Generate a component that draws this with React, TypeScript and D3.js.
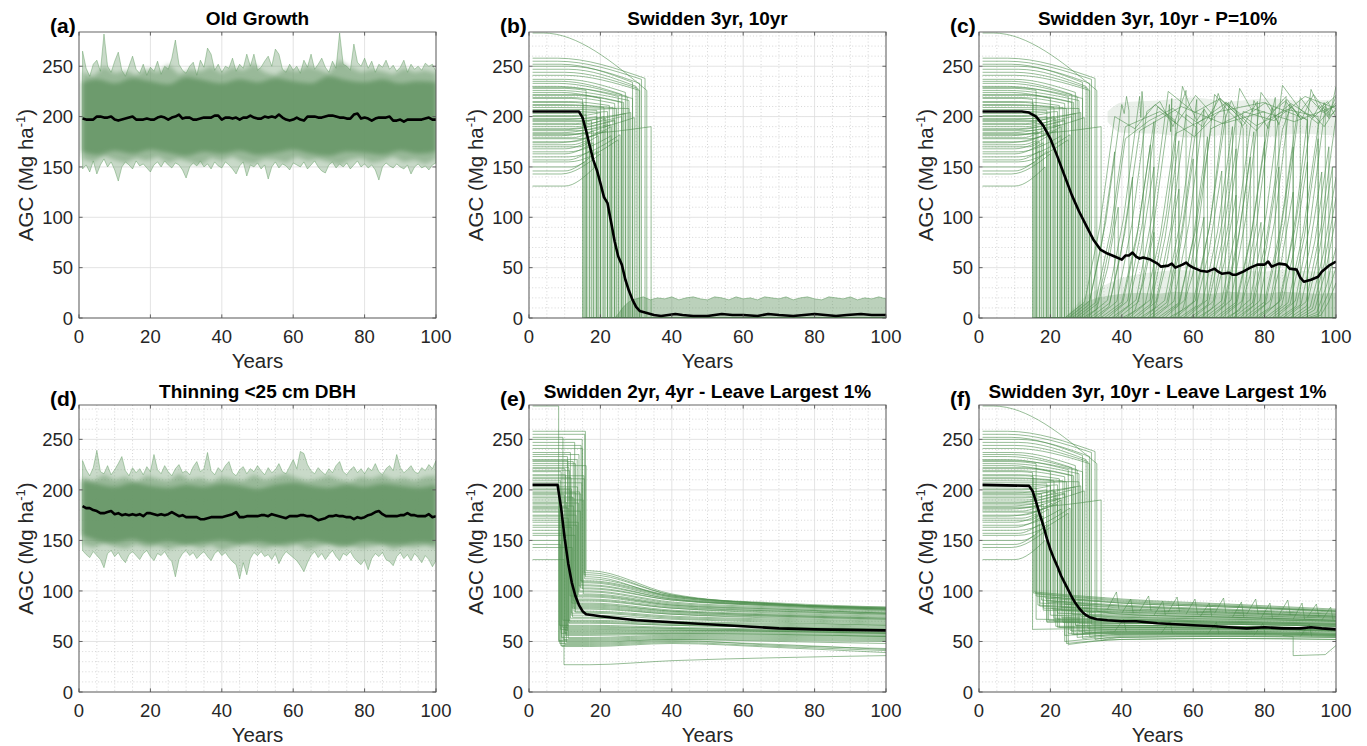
import React from "react";
import * as d3 from "d3";

// ---------- layout ----------
const W = 1367;
const H = 746;
const COLS: [number, number][] = [[79, 436], [529, 886], [979, 1336]];
const ROWS: [number, number][] = [[32, 318], [405, 692]];
const Y_MAX = 284;
const FONT = "'Liberation Sans', Arial, Helvetica, sans-serif";
const GREEN = "rgb(78,144,78)";
const BAND = "rgb(104,152,104)";

// ---------- ticks ----------
const xTicks = [0, 20, 40, 60, 80, 100];
const yTicks = [0, 50, 100, 150, 200, 250];
const xMinor = [5, 10, 15, 25, 30, 35, 45, 50, 55, 65, 70, 75, 85, 90, 95];
const yMinor = [10, 20, 30, 40, 60, 70, 80, 90, 110, 120, 130, 140, 160, 170, 180, 190, 210, 220, 230, 240, 260, 270, 280];

// ---------- (a) Old Growth : per-year envelope & mean ----------
const years = Array.from({ length: 100 }, (_, i) => i + 1);
const midYears = d3.range(1, 101, 3);
const coreYears = [1, 5, 10, 15, 20, 25, 30, 35, 40, 45, 50, 55, 60, 65, 70, 75, 80, 85, 90, 95, 100];

const aUpper = [265,248,240,252,256,245,282,250,244,255,264,246,240,250,260,247,243,252,241,249,245,255,242,250,247,258,276,252,246,243,250,254,241,256,249,268,262,246,252,244,250,248,258,245,252,248,262,250,262,246,249,255,260,250,267,262,247,244,252,246,250,243,256,249,262,247,252,258,249,244,255,248,283,252,250,246,272,254,250,258,248,255,244,252,249,256,247,251,245,249,256,244,252,247,250,246,253,250,252,245];
const aLower = [148,152,145,156,143,152,158,150,155,147,136,150,155,152,148,156,151,153,149,145,152,155,150,156,152,149,154,152,147,139,150,154,151,156,150,153,148,155,151,149,155,152,148,143,151,155,141,152,150,154,148,152,138,150,155,149,153,151,147,154,152,150,155,148,152,156,150,146,144,152,155,149,153,150,154,148,152,156,150,153,149,152,147,137,150,154,151,149,153,150,148,152,143,150,153,149,151,147,152,154];
const aMidUp = [244,240,250,243,246,241,248,244,252,242,247,245,250,243,249,246,252,244,241,248,245,250,247,243,256,249,244,247,245,242,248,244,246,243];
const aMidLo = [158,155,161,157,154,159,156,160,154,158,155,152,159,156,160,155,153,158,157,154,160,156,158,155,152,157,159,154,156,160,155,157,153,158];
const aCoreUp = [234,237,233,238,235,232,239,236,233,237,234,238,235,233,240,236,234,237,233,235,234];
const aCoreLo = [165,162,166,163,167,164,161,165,163,166,162,164,167,163,161,165,164,162,166,163,165];
const aMean = [198,197,197,197,200,200,199,199,200,197,196,197,198,199,200,197,197,197,198,197,197,199,200,199,197,199,200,202,198,199,199,197,197,198,199,199,199,201,201,197,199,199,198,199,197,199,199,201,199,198,198,200,199,200,199,202,199,197,196,197,199,197,196,200,200,200,199,199,200,201,201,200,199,199,198,198,202,203,198,199,198,196,198,199,199,199,200,196,196,197,195,197,197,197,197,197,198,199,197,197];

// ---------- (d) Thinning ----------
const dUpper = [229,220,214,222,239,218,216,224,215,220,226,233,219,214,222,217,221,215,223,218,235,220,216,224,218,214,221,225,217,219,215,223,228,218,221,237,219,215,222,218,224,228,217,214,220,223,216,221,218,224,219,215,222,217,220,226,218,216,223,230,221,238,236,225,219,216,222,218,215,221,217,224,228,218,215,220,223,217,221,216,222,219,226,218,215,221,224,219,235,222,217,220,224,218,216,222,219,225,221,229];
const dLower = [140,136,133,139,135,131,123,137,140,134,138,132,128,136,139,135,131,137,140,134,130,137,135,139,133,129,114,131,137,140,135,138,132,136,139,134,130,137,140,135,138,133,129,126,112,128,116,132,138,135,139,134,136,131,137,127,134,139,136,133,130,125,119,128,135,139,133,137,131,136,140,134,130,137,135,139,133,129,126,131,121,132,137,134,138,131,129,125,134,138,132,136,130,137,133,128,135,131,124,130];
const dMidUp = [212,209,215,210,213,208,214,211,209,216,210,212,208,213,211,209,215,210,213,216,212,209,211,214,210,208,213,211,215,210,212,209,213,214];
const dMidLo = [146,143,147,144,142,146,143,145,141,144,146,142,145,140,143,146,144,142,145,143,146,141,144,147,143,145,142,144,146,141,144,143,145,142];
const dCoreUp = [209,206,203,207,204,202,205,203,206,204,201,205,207,204,202,205,203,206,204,202,205];
const dCoreLo = [155,150,148,151,147,149,146,148,150,147,149,146,148,150,147,145,149,147,146,148,147];
const dMean = [184,182,182,180,179,177,177,178,179,176,177,175,176,175,176,175,176,174,177,177,176,175,176,175,176,178,176,174,175,173,173,173,173,171,171,172,173,173,173,173,174,175,176,178,173,173,174,174,174,174,175,175,174,176,175,174,173,172,174,174,174,175,175,174,174,172,170,171,172,174,174,175,174,174,173,173,171,173,172,173,175,176,178,179,176,174,174,174,174,175,175,177,175,175,174,174,174,176,173,174];

// ---------- shared plot trajectories (b, c, e, f) ----------
const initLevels = [218,184,241,157,205,230,172,196,252,163,211,188,226,146,200,235,178,258,193,215,168,222,181,207,247,131,190,233,175,212,160,198,228,186,255,150,203,219,170,244,192,183,224,165,209,237,179,195,283,155,214,229,187,201,174,250,143,221,197,182];
const bendYears = [12,9,10,11,13,8,12,14,9,10,13,11,8,10,12,9,14,8,13,11,10,12,9,14,11,10,13,8,12,9,11,14,10,13,8,12,9,11,14,10,12,13,9,11,8,10,12,14,4,11,13,9,10,12,8,11,9,13,10,12];
const clearYears = [15,22,31,17,19,25,16,27,29,18,21,24,28,15.5,20,26,23,32.5,17.5,22.5,19.5,26.5,16.5,24.5,30,18.5,21.5,27.5,20.5,23.5,25.5,28.5,16,29.5,31.5,19,22,24,17,30.5,26,34.2,20,23,28,27,18,21,33,25,15.2,29,24,16,22,31,20,26,19,23];
const driftLevels = [217,192,226,166,206,220,176,203,234,174,209,197,216,155,204,222,190,238,196,211,181,214,185,208,230,150,198,220,187,209,182,204,226,199,237,166,205,213,175,228,200,190,218,181,208,224,186,200,226,177,213,218,196,202,186,233,163,214,200,192];

// (f) levels after clearing (leave largest 1%)
const fTarget = [62,78,55,88,70,47,95,66,58,81,73,50,68,99,76,60,84,52,91,64,71,57,86,48,79,93,65,54,82,69,61,75,97,59,67,89,72,56,85,63,77,51,94,74,60,66,83,70,80,58,98,53,87,72,64,76,90,57,69,81];
const f40 = [63,76,57,84,70,52,89,66,60,79,72,54,68,92,74,62,81,55,86,64,70,59,82,52,77,88,65,57,79,68,62,73,90,60,66,85,71,58,81,64,75,54,88,72,61,66,80,69,77,59,91,56,83,71,64,74,85,58,68,78];
const f70 = [63,74,57,80,68,53,85,65,60,76,70,55,67,87,72,62,78,56,82,63,69,59,79,53,74,84,64,58,76,67,62,71,85,60,65,81,69,58,78,63,73,55,84,70,61,65,77,68,74,59,86,57,79,69,63,72,81,58,67,75];
const f100 = [61,71,56,76,66,52,80,63,58,73,68,54,65,82,70,60,75,55,78,61,67,57,75,52,71,80,62,57,73,65,60,69,80,58,63,77,67,56,74,61,70,54,79,68,59,63,74,66,71,57,81,55,75,67,61,70,77,56,65,72];
// regrowth spikes in (f): [start year, base, peak]
const fSpikes = [[36,82,99],[40,78,92],[45,80,95],[49,76,90],[53,79,94],[58,77,92],[62,75,88],[66,78,93],[71,74,89],[75,77,92],[79,73,88],[84,76,91],[88,72,88],[92,74,87],[96,71,84],[38,60,72],[51,58,70],[64,57,69],[77,56,68],[90,55,67]];
const fExtra = [[85,56],[88,55],[88,36],[97,37],[100,46]];

// (e) swidden 2yr,4yr
const eClear = [9,12.5,15,10,8.5,13.5,11,14.5,9.5,12,15.5,10.5,13,8.8,11.5,14,9.2,15.8,12.2,10.2,13.8,11.2,8.4,14.8,12.8,9.8,15.2,10.8,13.2,11.8,9.4,14.2,12.4,8.6,15.6,10.4,13.6,11.4,9.6,14.6,12.6,10.6,16,13.4,8.9,11.6,14.4,9.9,8.3,12.9,15.4,10.9,13.9,11.9,9.1,14.9,12.1,10.1,13.1,11.1];
const eTarget = [58,84,102,47,66,92,53,110,71,88,118,49,79,62,95,105,45,114,74,56,99,68,51,108,82,27,97,60,86,76,64,100,90,48,112,57,94,70,52,106,80,63,120,87,46,73,103,59,50,85,116,65,96,78,54,109,83,61,91,69];
const e40 = [58,78,91,50,64,84,55,95,68,81,96,52,74,61,86,92,48,94,70,57,88,66,53,93,77,31,87,60,80,72,63,89,83,51,95,58,85,67,54,92,75,62,97,80,49,69,91,59,52,79,96,63,86,73,56,94,77,61,83,66];
const e70 = [57,75,86,47,62,80,54,88,66,77,87,50,71,60,82,86,44,87,68,56,83,64,52,86,74,34,82,59,76,69,61,84,79,46,87,57,80,65,53,85,72,60,87,76,45,67,85,58,51,75,87,61,81,70,55,86,73,60,78,64];
const e100 = [55,72,82,42,60,77,53,84,64,74,83,48,68,58,78,82,39,83,66,55,79,62,51,82,71,36,78,57,73,66,59,80,76,43,83,55,77,63,52,81,69,58,84,73,41,65,81,56,50,72,83,59,78,67,54,82,70,58,75,62];

// (b) repeated crop/fallow band after clearing: top edge
const bLowYears = [24,25,26,27,28,29,30,32,34,36,38,40,42,44,46,48,50,52,54,56,58,60,62,64,66,68,70,72,74,76,78,80,82,84,86,88,90,92,94,96,98,100];
const bLowTop = [0,4,9,13,16,18,19,21,18,20,19,21,18,20,21,19,18,21,20,18,21,19,20,18,21,20,19,21,18,20,21,19,18,21,20,19,21,18,20,19,21,19];

// (c) recoveries: [start, rise years, peak, end(clear) year, v1, v2, vEnd]
const regrowShape = [[0, 0], [0.4, 0.08], [0.7, 0.45], [1, 1]];
const cRecoveries = [
  [24,14,200,55,188,212,196],[25,15,212,42,203,220,206],[26,12,165,38,0,0,0],[27,14,190,70,205,180,214],
  [28,13,178,61,196,208,189],[29,10,110,39,0,0,0],[30,15,220,46,199,225,210],[31,14,186,80,210,193,205],
  [32,11,140,43,0,0,0],[33,14,205,58,215,190,226],[34,15,195,49,208,182,200],[35,13,172,48,0,0,0],
  [36,14,210,66,193,221,200],[37,12,150,49,0,0,0],[38,15,225,75,204,218,192],[39,14,198,54,212,185,218],
  [40,9,85,49,0,0,0],[41,14,183,92,205,214,197],[42,15,230,63,211,196,207],[43,13,176,56,0,0,0],
  [44,14,202,72,190,218,203],[45,11,128,56,0,0,0],[46,15,217,60,199,206,212],[47,14,193,86,214,186,220],
  [48,12,158,60,0,0,0],[49,14,208,69,196,223,201],[50,15,188,100,208,195,211],[51,13,180,64,0,0,0],
  [52,14,222,78,205,191,215],[53,10,100,63,0,0,0],[54,15,198,74,216,203,188],[55,14,214,95,191,207,200],
  [56,12,146,68,0,0,0],[57,14,190,71,210,198,213],[58,15,228,84,205,214,193],[59,13,168,72,0,0,0],
  [60,14,205,100,196,220,208],[61,11,122,72,0,0,0],[62,15,216,83,201,188,219],[63,14,185,77,212,196,204],
  [64,12,160,76,0,0,0],[65,14,224,90,206,217,198],[66,15,194,100,213,199,221],[67,13,175,80,0,0,0],
  [68,14,209,88,192,215,205],[69,10,95,79,0,0,0],[70,15,231,100,207,193,214],[71,14,187,92,210,202,196],
  [72,12,150,84,0,0,0],[73,14,212,97,197,222,206],[74,15,200,100,218,204,211],[75,13,170,88,0,0,0],
  [76,14,219,100,203,190,208],[77,11,125,88,0,0,0],[78,15,196,100,211,200,220],[79,14,227,100,208,215,199],
  [80,12,155,92,0,0,0],[81,14,190,100,214,201,206],[82,13,178,95,0,0,0],[83,14,210,100,198,213,230],
  [84,12,145,96,0,0,0],[85,13,170,98,0,0,0],[86,14,200,100,200,200,200],[87,12,150,99,0,0,0],
  [88,12,140,100,0,0,0],[89,11,120,100,0,0,0],[90,10,100,100,0,0,0],[91,9,70,100,0,0,0],
  [92,8,50,100,0,0,0],[93,7,35,100,0,0,0],
];
const cLowYears = [24,26,28,30,33,36,40,45,50,55,60,65,70,75,80,85,90,95,100];
const cLowTopA = [0,6,12,16,20,22,24,25,24,26,25,24,26,25,24,26,25,24,25];
const cLowTopB = [0,8,16,22,28,34,40,44,46,48,47,46,48,47,46,48,47,46,47];
const cPlatYears = [36,40,50,60,70,80,90,100];
const cPlatUp = [205,214,216,219,215,218,216,217];
const cPlatLo = [195,184,183,179,182,180,183,181];

// ---------- mean curves ----------
const bMean = [[1,205],[14,205],[15,199],[16,186],[17,171],[18,157],[19,147],[20,134],[21,120],[22,114],[23,95],[24,76],[25,61],[26,53],[27,38],[28,27],[29,18],[30,11],[31,7],[32,6],[33,5],[35,3],[37,2],[39,3],[41,4],[43,3],[46,2],[50,2],[54,4],[57,3],[60,3],[64,2],[67,4],[70,3],[74,2],[77,3],[80,4],[83,3],[86,2],[89,3],[93,4],[96,3],[100,3]];
const cMean = [[1,205],[12,205],[14,204],[16,200],[18,191],[20,178],[22,160],[24,141],[26,122],[28,106],[30,92],[32,78],[34,68],[36,64],[38,61],[40,58],[41,62],[42,62],[43,65],[44,61],[45,59],[46,60],[48,58],[50,54],[51,51],[53,52],[54,54],[55,50],[57,53],[58,55],[59,52],[60,50],[62,47],[64,46],[66,49],[67,46],[68,44],[70,45],[71,43],[72,43],[74,46],[76,50],[78,53],[80,53],[81,56],[82,51],[84,54],[86,53],[87,49],[89,48],[90,40],[91,36],[93,38],[95,41],[96,46],[98,52],[100,56]];
const eMean = [[1,205],[8,205],[9,182],[10,152],[11,127],[12,108],[13,95],[14,86],[15,80],[16,77],[18,76],[20,75],[25,73],[30,71],[35,70],[40,69],[50,67],[60,65],[70,63],[80,62],[90,61.5],[100,61]];
const fMean = [[1,205],[14,204],[15,199],[16,188],[17,176],[18,165],[19,152],[20,141],[21,132],[22,124],[23,115],[24,108],[25,101],[26,94],[27,88],[28,83],[29,79],[30,76],[31,74],[33,72],[36,71],[40,70],[44,70],[50,68],[55,67],[60,66],[66,65],[70,64],[75,63],[80,64],[85,63],[90,63],[93,64],[96,63],[100,62]];

// ---------- helpers ----------
type Sc = d3.ScaleLinear<number, number>;
type P = [number, number];

const mkLine = (x: Sc, y: Sc, curve: any = d3.curveLinear) =>
  d3.line<P>().x((d) => x(d[0])).y((d) => y(d[1])).curve(curve);

const mkBand = (x: Sc, y: Sc) =>
  d3.area<[number, number, number]>().x((d) => x(d[0])).y0((d) => y(d[2])).y1((d) => y(d[1]));

const zip3 = (xs: number[], a: number[], b: number[]) =>
  xs.slice(0, Math.min(xs.length, a.length, b.length)).map((v, i) => [v, a[i], b[i]] as [number, number, number]);

const lineStyle = { fill: "none", stroke: GREEN, strokeOpacity: 0.62, strokeWidth: 0.95 } as const;
const meanStyle = { fill: "none", stroke: "#000", strokeWidth: 2.6, strokeLinejoin: "round" as const };

function preDrop(i: number): P[] {
  return [[1, initLevels[i]], [bendYears[i], initLevels[i]], [clearYears[i], driftLevels[i]]];
}

interface PanelProps {
  col: number;
  row: number;
  label: string;
  title: string;
  minor: boolean;
  draw: (x: Sc, y: Sc) => React.ReactNode;
}

function Panel({ col, row, label, title, minor, draw }: PanelProps) {
  const [x0, x1] = COLS[col];
  const [yt, yb] = ROWS[row];
  const x = d3.scaleLinear().domain([0, 100]).range([x0, x1]);
  const y = d3.scaleLinear().domain([0, Y_MAX]).range([yb, yt]);
  const clipId = `clip-${col}-${row}`;
  const axisCol = "#555";
  const tl = 3.6;
  return (
    <g>
      <defs>
        <clipPath id={clipId}>
          <rect x={x0} y={yt} width={x1 - x0} height={yb - yt} />
        </clipPath>
      </defs>
      <rect x={x0} y={yt} width={x1 - x0} height={yb - yt} fill="#fff" />
      {minor && (
        <g stroke="#c4c4c4" strokeWidth={0.7} strokeDasharray="1 2.2">
          {xMinor.map((v) => (
            <line key={"mx" + v} x1={x(v)} x2={x(v)} y1={yt} y2={yb} />
          ))}
          {yMinor.map((v) => (
            <line key={"my" + v} x1={x0} x2={x1} y1={y(v)} y2={y(v)} />
          ))}
        </g>
      )}
      <g stroke="#dcdcdc" strokeWidth={0.8}>
        {xTicks.map((v) => (
          <line key={"gx" + v} x1={x(v)} x2={x(v)} y1={yt} y2={yb} />
        ))}
        {yTicks.map((v) => (
          <line key={"gy" + v} x1={x0} x2={x1} y1={y(v)} y2={y(v)} />
        ))}
      </g>
      <g clipPath={`url(#${clipId})`}>{draw(x, y)}</g>
      <rect x={x0} y={yt} width={x1 - x0} height={yb - yt} fill="none" stroke={axisCol} strokeWidth={0.9} />
      <g stroke={axisCol} strokeWidth={0.9}>
        {xTicks.map((v) => (
          <g key={"tx" + v}>
            <line x1={x(v)} x2={x(v)} y1={yb} y2={yb - tl} />
            <line x1={x(v)} x2={x(v)} y1={yt} y2={yt + tl} />
          </g>
        ))}
        {yTicks.map((v) => (
          <g key={"ty" + v}>
            <line x1={x0} x2={x0 + tl} y1={y(v)} y2={y(v)} />
            <line x1={x1} x2={x1 - tl} y1={y(v)} y2={y(v)} />
          </g>
        ))}
      </g>
      <g fontFamily={FONT} fontSize={18.5} fill="#262626">
        {xTicks.map((v) => (
          <text key={"lx" + v} x={x(v)} y={yb + 25} textAnchor="middle">
            {v}
          </text>
        ))}
        {yTicks.map((v) => (
          <text key={"ly" + v} x={x0 - 6} y={y(v)} dy="0.36em" textAnchor="end">
            {v}
          </text>
        ))}
      </g>
      <text x={(x0 + x1) / 2} y={yb + 50} textAnchor="middle" fontFamily={FONT} fontSize={20.5} fill="#262626">
        Years
      </text>
      <text
        transform={`translate(${x0 - 46},${(yt + yb) / 2}) rotate(-90)`}
        textAnchor="middle"
        fontFamily={FONT}
        fontSize={20.5}
        fill="#262626"
      >
        AGC (Mg ha
        <tspan fontSize={13} dy={-8}>
          -1
        </tspan>
        <tspan dy={8}>)</tspan>
      </text>
      <text x={(x0 + x1) / 2} y={yt - 7} textAnchor="middle" fontFamily={FONT} fontSize={19} fontWeight="bold" fill="#000">
        {title}
      </text>
      <text x={x0 - 29} y={yt + 0.5} fontFamily={FONT} fontSize={21} fontWeight="bold" fill="#000">
        {label}
      </text>
    </g>
  );
}

function drawNoisyBand(
  x: Sc,
  y: Sc,
  up: number[],
  lo: number[],
  midUp: number[],
  midLo: number[],
  coreUp: number[],
  coreLo: number[],
  mean: number[]
) {
  const band = mkBand(x, y);
  const smooth = mkBand(x, y).curve(d3.curveMonotoneX);
  const ln = mkLine(x, y);
  const meanPts = years.map((t, i) => [t, mean[i]] as P).filter((d) => d[1] !== undefined);
  return (
    <g>
      <path d={band(zip3(years, up, lo)) || ""} fill={BAND} fillOpacity={0.36} stroke={GREEN} strokeOpacity={0.5} strokeWidth={0.8} />
      <path d={band(zip3(midYears, midUp, midLo)) || ""} fill={BAND} fillOpacity={0.5} filter="url(#soft)" />
      <path d={smooth(zip3(coreYears, coreUp, coreLo)) || ""} fill={BAND} fillOpacity={0.9} filter="url(#soft)" />
      <path d={ln(meanPts) || ""} style={meanStyle} />
    </g>
  );
}

function App() {
  return (
    <div style={{ position: "absolute", left: 0, top: 0, width: W, height: H, background: "#fff" }}>
      <svg width={W} height={H} viewBox={`0 0 ${W} ${H}`} style={{ display: "block" }}>
        <defs>
          <filter id="soft" x="-5%" y="-20%" width="110%" height="140%">
            <feGaussianBlur stdDeviation="2.2" />
          </filter>
        </defs>
        <rect width={W} height={H} fill="#fff" />

        {/* (a) */}
        <Panel
          col={0}
          row={0}
          label="(a)"
          title="Old Growth"
          minor={false}
          draw={(x, y) => drawNoisyBand(x, y, aUpper, aLower, aMidUp, aMidLo, aCoreUp, aCoreLo, aMean)}
        />

        {/* (b) */}
        <Panel
          col={1}
          row={0}
          label="(b)"
          title="Swidden 3yr, 10yr"
          minor={true}
          draw={(x, y) => {
            const sm = mkLine(x, y, d3.curveMonotoneX);
            const ln = mkLine(x, y);
            const area = d3.area<P>().x((d) => x(d[0])).y0(y(0)).y1((d) => y(d[1]));
            const low = bLowYears.map((t, i) => [t, bLowTop[i]] as P);
            return (
              <g>
                <path d={area(low) || ""} fill={BAND} fillOpacity={0.45} />
                <path d={ln(low) || ""} fill="none" stroke={GREEN} strokeOpacity={0.55} strokeWidth={0.8} />
                {initLevels.map((_, i) => (
                  <path
                    key={i}
                    d={`${sm(preDrop(i))}L${x(clearYears[i])},${y(0)}L${x(100)},${y(0)}`}
                    style={lineStyle}
                  />
                ))}
                <path d={ln(bMean as P[]) || ""} style={meanStyle} />
              </g>
            );
          }}
        />

        {/* (c) */}
        <Panel
          col={2}
          row={0}
          label="(c)"
          title="Swidden 3yr, 10yr - P=10%"
          minor={true}
          draw={(x, y) => {
            const sm = mkLine(x, y, d3.curveMonotoneX);
            const ln = mkLine(x, y);
            const band = mkBand(x, y).curve(d3.curveMonotoneX);
            const area = d3.area<P>().x((d) => x(d[0])).y0(y(0)).y1((d) => y(d[1]));
            return (
              <g>
                <path d={area(cLowYears.map((t, i) => [t, cLowTopB[i]] as P)) || ""} fill={BAND} fillOpacity={0.15} />
                <path d={area(cLowYears.map((t, i) => [t, cLowTopA[i]] as P)) || ""} fill={BAND} fillOpacity={0.3} />
                <path d={band(zip3(cPlatYears, cPlatUp, cPlatLo)) || ""} fill={BAND} fillOpacity={0.14} />
                {initLevels.map((_, i) => (
                  <path
                    key={"p" + i}
                    d={`${sm(preDrop(i))}L${x(clearYears[i])},${y(0)}L${x(100)},${y(0)}`}
                    style={lineStyle}
                  />
                ))}
                {cRecoveries.map((r, k) => {
                  const [s, dur, peak, e, v1, v2, vEnd] = r;
                  const pts: P[] = regrowShape.map(([f, g]) => [s + f * dur, g * peak] as P);
                  const p = s + dur;
                  if (e > p) {
                    pts.push([p + (e - p) / 3, v1], [p + (2 * (e - p)) / 3, v2], [e, vEnd]);
                  }
                  const last = pts[pts.length - 1];
                  const tail = last[0] < 100 ? `L${x(last[0])},${y(0)}` : "";
                  return <path key={"r" + k} d={`${ln(pts)}${tail}`} style={lineStyle} />;
                })}
                <path d={ln(cMean as P[]) || ""} style={meanStyle} />
              </g>
            );
          }}
        />

        {/* (d) */}
        <Panel
          col={0}
          row={1}
          label="(d)"
          title="Thinning <25 cm DBH"
          minor={true}
          draw={(x, y) => drawNoisyBand(x, y, dUpper, dLower, dMidUp, dMidLo, dCoreUp, dCoreLo, dMean)}
        />

        {/* (e) */}
        <Panel
          col={1}
          row={1}
          label="(e)"
          title="Swidden 2yr, 4yr - Leave Largest 1%"
          minor={true}
          draw={(x, y) => {
            const sm = mkLine(x, y, d3.curveMonotoneX);
            const ln = mkLine(x, y);
            return (
              <g>
                {initLevels.map((L, i) => {
                  const D = eClear[i];
                  const pre: P[] = [[1, L], [D, L], [D, eTarget[i]]];
                  const post: P[] = [[D, eTarget[i]], [17, eTarget[i]], [40, e40[i]], [70, e70[i]], [100, e100[i]]];
                  return (
                    <g key={i}>
                      <path d={ln(pre) || ""} style={lineStyle} />
                      <path d={sm(post) || ""} style={lineStyle} />
                    </g>
                  );
                })}
                <path d={ln(eMean as P[]) || ""} style={meanStyle} />
              </g>
            );
          }}
        />

        {/* (f) */}
        <Panel
          col={2}
          row={1}
          label="(f)"
          title="Swidden 3yr, 10yr - Leave Largest 1%"
          minor={true}
          draw={(x, y) => {
            const sm = mkLine(x, y, d3.curveMonotoneX);
            const ln = mkLine(x, y);
            return (
              <g>
                {initLevels.map((_, i) => {
                  const D = clearYears[i];
                  const post: P[] = [[D, fTarget[i]], [40, f40[i]], [70, f70[i]], [100, f100[i]]];
                  return (
                    <g key={i}>
                      <path d={`${sm(preDrop(i))}L${x(D)},${y(fTarget[i])}`} style={lineStyle} />
                      <path d={sm(post) || ""} style={lineStyle} />
                    </g>
                  );
                })}
                {fSpikes.map(([s, b, pk], k) => (
                  <path
                    key={"s" + k}
                    d={ln([[s, b], [s + 2.5, pk], [s + 3.2, b]] as P[]) || ""}
                    style={lineStyle}
                  />
                ))}
                <path d={ln(fExtra as P[]) || ""} style={lineStyle} />
                <path d={ln(fMean as P[]) || ""} style={meanStyle} />
              </g>
            );
          }}
        />
      </svg>
    </div>
  );
}

export default App;
